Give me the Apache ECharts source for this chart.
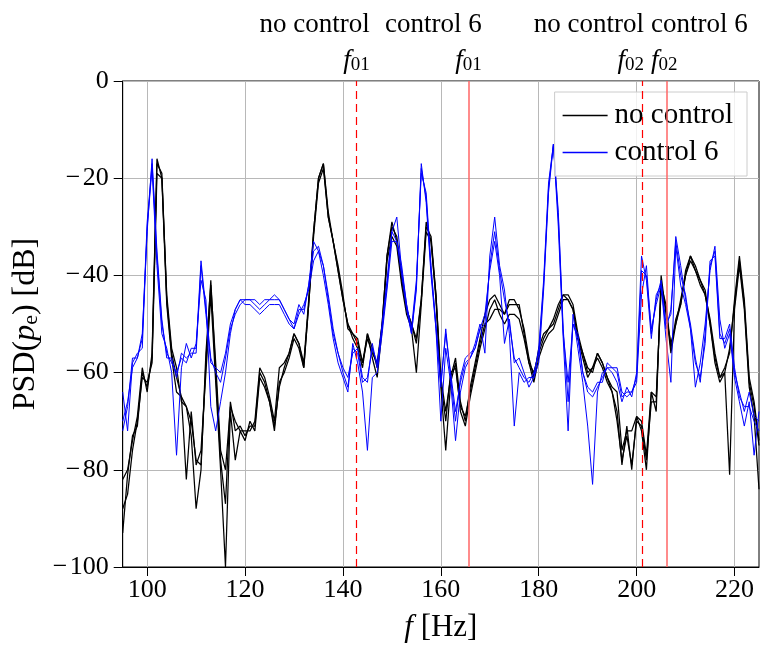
<!DOCTYPE html>
<html>
<head>
<meta charset="utf-8">
<script src="https://cdn.jsdelivr.net/npm/echarts@6/dist/echarts.min.js"></script>
<style>html,body{margin:0;padding:0;background:#fff;}#c{width:761px;height:648px;}</style>
</head>
<body>
<div id="c"></div>
<script>
var freq = [95,96,97,98,99,100,101,102,103,104,105,106,107,108,109,110,111,112,113,114,115,116,117,118,119,120,121,122,123,124,125,126,127,128,129,130,131,132,133,134,135,136,137,138,139,140,141,142,143,144,145,146,147,148,149,150,151,152,153,154,155,156,157,158,159,160,161,162,163,164,165,166,167,168,169,170,171,172,173,174,175,176,177,178,179,180,181,182,183,184,185,186,187,188,189,190,191,192,193,194,195,196,197,198,199,200,201,202,203,204,205,206,207,208,209,210,211,212,213,214,215,216,217,218,219,220,221,222,223,224,225];

var noControlA = [-93,-81,-73,-71,-60,-63,-57,-17,-19,-45,
-56,-61,-65,-67,-70,-78,-79,-58,-41,-60,
-78,-87,-66,-72,-71,-73,-71,-71,-60,-62,
-66,-71,-63,-59,-56,-52,-54,-58,-45,-31,
-20,-17,-28,-33,-39,-45,-50,-52,-54,-58,
-53,-56,-58,-50,-36,-29,-33,-41,-47,-50,
-53,-45,-30,-32,-44,-62,-70,-60,-59,-67,
-69,-64,-59,-54,-50,-49,-47,-47,-48,-46,
-46,-46,-52,-58,-60,-56,-53,-51,-50,-47,
-44,-45,-47,-53,-56,-59,-60,-56,-58,-61,
-64,-70,-78,-73,-79,-70,-71,-78,-66,-66,
-42,-46,-55,-49,-46,-40,-36,-39,-41,-43,
-50,-57,-61,-60,-55,-46,-37,-46,-62,-67,
-75];

var noControlB = [-88,-85,-76,-70,-61,-62,-58,-19,-20,-46,
-57,-64,-65,-82,-68,-79,-76,-60,-44,-62,
-80,-100,-68,-78,-72,-74,-70,-72,-61,-63,
-66,-72,-62,-60,-57,-53,-55,-59,-46,-32,
-21,-18,-28,-33,-39,-45,-50,-53,-55,-59,
-52,-57,-61,-51,-37,-32,-34,-42,-48,-51,
-60,-46,-31,-33,-45,-63,-76,-62,-58,-68,
-71,-65,-60,-55,-51,-47,-45,-48,-50,-48,
-48,-49,-53,-58,-62,-57,-54,-52,-51,-48,
-45,-45,-47,-53,-57,-61,-59,-57,-59,-62,
-64,-68,-79,-71,-80,-69,-72,-80,-64,-68,
-40,-48,-54,-50,-45,-40,-37,-39,-42,-44,
-50,-58,-62,-60,-81,-47,-38,-47,-63,-69,
-84];

var noControlC = [-82,-80,-74,-69,-59,-64,-56,-16,-20,-44,
-55,-59,-66,-67,-73,-88,-80,-56,-42,-58,
-76,-80,-67,-70,-72,-72,-72,-70,-59,-61,
-65,-70,-59,-58,-56,-52,-54,-59,-46,-31,
-20,-17,-27,-33,-38,-44,-51,-52,-53,-58,
-52,-55,-59,-50,-36,-30,-32,-40,-47,-50,
-54,-45,-29,-33,-44,-61,-68,-61,-57,-66,
-70,-63,-58,-53,-48,-45,-44,-46,-48,-45,
-45,-47,-51,-57,-61,-55,-52,-51,-49,-46,
-44,-44,-46,-52,-56,-60,-59,-56,-58,-61,
-63,-64,-76,-72,-72,-69,-70,-77,-64,-65,
-43,-47,-56,-50,-46,-39,-36,-38,-41,-44,
-49,-56,-61,-59,-56,-45,-36,-45,-61,-66,
-74];

var control6A = [-72,-67,-57,-57,-53,-29,-17,-36,-50,-56,
-58,-60,-57,-58,-55,-55,-37,-47,-57,-60,
-62,-57,-51,-48,-46,-45,-45,-46,-47,-46,
-45,-45,-45,-47,-49,-51,-47,-47,-42,-35,
-34,-38,-44,-51,-56,-60,-63,-55,-56,-62,
-61,-55,-58,-51,-42,-31,-28,-39,-46,-52,
-42,-18,-24,-39,-50,-62,-52,-60,-68,-62,
-58,-57,-55,-51,-50,-38,-31,-39,-45,-50,
-57,-59,-61,-62,-60,-56,-42,-22,-13,-28,
-52,-62,-50,-53,-60,-64,-65,-63,-61,-59,
-59,-60,-65,-64,-64,-62,-44,-38,-52,-45,
-41,-50,-48,-32,-38,-45,-50,-57,-62,-52,
-38,-35,-52,-54,-51,-60,-64,-68,-64,-69,
-70];

var control6B = [-64,-72,-58,-56,-55,-30,-18,-38,-52,-55,
-60,-77,-59,-54,-57,-54,-41,-45,-67,-72,
-66,-60,-52,-47,-45,-46,-46,-47,-48,-47,
-46,-46,-46,-48,-50,-51,-48,-46,-43,-37,
-35,-40,-46,-53,-58,-61,-64,-54,-58,-64,
-76,-61,-60,-52,-43,-33,-33,-40,-47,-52,
-43,-17,-25,-40,-51,-70,-55,-62,-74,-64,
-59,-57,-54,-50,-56,-36,-28,-38,-43,-52,
-71,-60,-62,-61,-61,-58,-43,-23,-13,-30,
-53,-72,-48,-55,-62,-71,-83,-64,-60,-59,
-60,-62,-66,-63,-65,-60,-36,-41,-53,-44,
-42,-53,-62,-34,-42,-46,-51,-63,-58,-50,
-39,-34,-49,-55,-52,-61,-66,-71,-66,-77,
-68];

var control6C = [-70,-66,-59,-57,-52,-31,-16,-35,-49,-57,
-57,-61,-56,-57,-56,-56,-38,-48,-58,-59,
-60,-56,-50,-47,-45,-45,-45,-45,-46,-45,
-45,-44,-45,-47,-49,-50,-46,-48,-42,-33,
-35,-38,-45,-52,-56,-59,-61,-56,-55,-61,
-62,-54,-59,-50,-41,-31,-33,-38,-46,-51,
-41,-19,-23,-38,-51,-63,-51,-61,-70,-61,
-57,-56,-55,-51,-48,-39,-33,-40,-54,-49,
-58,-57,-60,-63,-61,-55,-41,-21,-13,-27,
-51,-66,-50,-52,-60,-63,-64,-62,-62,-58,
-59,-59,-64,-65,-64,-61,-39,-40,-51,-46,
-42,-51,-47,-33,-40,-44,-51,-58,-61,-54,
-37,-36,-53,-53,-50,-59,-65,-67,-67,-70,
-72];

var xTicks = [100,120,140,160,180,200,220];
var yTicks = [-100,-80,-60,-40,-20,0];
var markers = [142.8, 165.7, 201.1, 206.2];
var markerLabels = [['no control','01'],['control 6','01'],['no control','02'],['control 6','02']];

var FONT = '"Liberation Serif", "DejaVu Serif", serif';

function pairs(vals){ return freq.map(function(f,i){ return [f, vals[i]]; }); }
function mk(name, vals, color, width){
  return {name:name, type:'line', data:pairs(vals), symbol:'none', showSymbol:false,
    lineStyle:{color:color, width:width}, itemStyle:{color:color}, animation:false, z:3};
}

var series = [
  mk('no control', noControlA, '#000000', 1.25),
  mk('no control', noControlB, '#000000', 1.25),
  mk('no control', noControlC, '#000000', 1.25),
  mk('control 6', control6A, '#0000ff', 1.0),
  mk('control 6', control6B, '#0000ff', 1.0),
  mk('control 6', control6C, '#0000ff', 1.0)
];
series[0].markLine = {
  silent:true, symbol:['none','none'], label:{show:false}, animation:false,
  data:[
    {xAxis:markers[0], lineStyle:{color:'#ff0000', type:[8,5], width:1.2}},
    {xAxis:markers[1], lineStyle:{color:'#ff6666', type:'solid', width:1.5}},
    {xAxis:markers[2], lineStyle:{color:'#ff0000', type:[8,5], width:1.2}},
    {xAxis:markers[3], lineStyle:{color:'#ff6666', type:'solid', width:1.5}}
  ]
};

var chart = echarts.init(document.getElementById('c'), null, {renderer:'canvas'});
var minus = function(v){ return v < 0 ? '\u2212\u200A' + String(-v) : String(v); };
chart.setOption({
  animation:false,
  backgroundColor:'#ffffff',
  textStyle:{fontFamily:FONT},
  grid:{left:122.7, right:2, top:81, bottom:81, show:true, borderColor:'#000', borderWidth:1, backgroundColor:'transparent'},
  legend:{
    data:['no control','control 6'], orient:'vertical', right:14, top:92,
    icon:'rect', itemWidth:45, itemHeight:1.3, itemGap:8,
    backgroundColor:'rgba(255,255,255,0.8)', borderColor:'#cccccc', borderWidth:1,
    padding:[9,14,9,8],
    textStyle:{fontFamily:FONT, fontSize:29, color:'#000', padding:[0,0,0,2]}
  },
  xAxis:{
    type:'value', min:95, max:225, splitNumber:6,
    axisLine:{show:true, onZero:false, lineStyle:{color:'#000', width:1}},
    axisTick:{show:true, inside:false, length:9, customValues:xTicks, lineStyle:{color:'#000'}},
    axisLabel:{customValues:xTicks, fontFamily:FONT, fontSize:26, color:'#000', margin:10, formatter:minus},
    splitLine:{show:true, lineStyle:{color:'#b8b8b8', width:1}},
    name:'{i|f} [Hz]', nameLocation:'middle', nameGap:45,
    nameTextStyle:{fontFamily:FONT, fontSize:31, color:'#000', rich:{i:{fontStyle:'italic', fontFamily:FONT, fontSize:31}}}
  },
  yAxis:{
    type:'value', min:-100, max:0, interval:20,
    axisLine:{show:true, onZero:false, lineStyle:{color:'#000', width:1}},
    axisTick:{show:true, inside:false, length:9, customValues:yTicks, lineStyle:{color:'#000'}},
    axisLabel:{customValues:yTicks, fontFamily:FONT, fontSize:26, color:'#000', margin:14, formatter:minus},
    splitLine:{show:true, lineStyle:{color:'#b8b8b8', width:1}},
    name:'PSD({i|p}{s|e}) [dB]', nameLocation:'middle', nameGap:76, nameRotate:90,
    nameTextStyle:{fontFamily:FONT, fontSize:32, color:'#000',
      rich:{i:{fontStyle:'italic', fontFamily:FONT, fontSize:32}, s:{fontFamily:FONT, fontSize:22, verticalAlign:'bottom', padding:[11,0,0,0]}}}
  },
  series:series
});

// annotation labels above the marker lines, positioned through the x-axis scale
var offsets = [[13,'right'],[13,'right'],[2,'right'],[-16,'left']];
var g = [];
markers.forEach(function(m, i){
  var px = chart.convertToPixel({xAxisIndex:0}, m);
  g.push({
    type:'text', x: px + offsets[i][0], y: 7, z:10,
    style:{
      text: markerLabels[i][0] + '\n{i|f}{s|' + markerLabels[i][1] + '}',
      align: offsets[i][1], verticalAlign:'top',
      fontFamily:FONT, fontSize:27, fill:'#000', lineHeight:36,
      rich:{i:{fontStyle:'italic', fontFamily:FONT, fontSize:27, lineHeight:36}, s:{fontFamily:FONT, fontSize:19, lineHeight:36, padding:[8,0,0,0]}}
    }
  });
});
chart.setOption({graphic:g});
</script>
</body>
</html>
